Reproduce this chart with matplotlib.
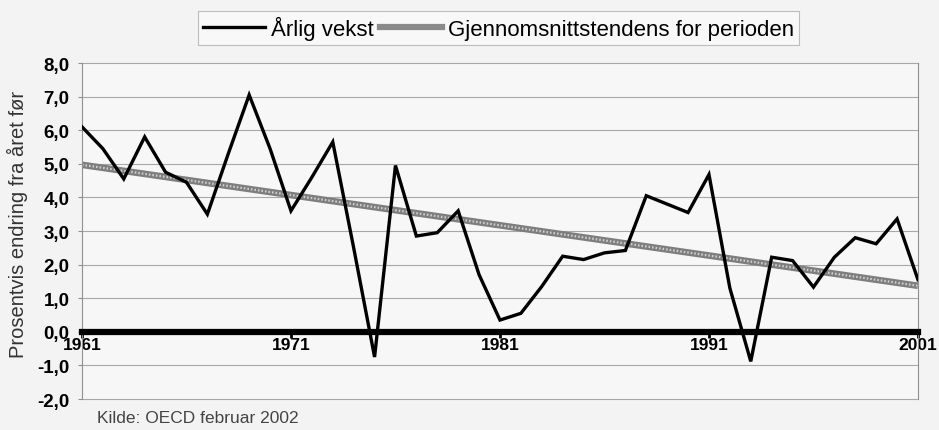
import numpy as np
import matplotlib.pyplot as plt
from matplotlib.lines import Line2D

# annual growth
years = list(range(1961, 2002))
growth = [6.1, 5.45, 4.55, 5.8, 4.75, 4.45, 3.5, 5.3, 7.05, 5.45,
          3.6, 4.6, 5.65, 2.5, -0.75, 4.95, 2.85, 2.95, 3.6, 1.7,
          0.35, 0.55, 1.35, 2.25, 2.15, 2.35, 2.42, 4.05, 3.8, 3.55,
          4.68, 1.3, -0.88, 2.22, 2.12, 1.33, 2.22, 2.8, 2.62, 3.36,
          1.55]
# average trend for the period (end points)
trend_years = [1961, 2001]
trend_vals = [4.97, 1.37]

xtick_years = [1961, 1971, 1981, 1991, 2001]
yticks = list(range(-2, 9))

font = 'Liberation Sans'

fig = plt.figure(figsize=(9.39, 4.31), dpi=100, facecolor='#f3f3f3')
ax = fig.add_axes([0.0873, 0.0719, 0.8903, 0.7796], facecolor='#f7f7f7')

# grid
for y in yticks:
    ax.axhline(y, color='#a8a8a8', lw=0.8, zorder=1, clip_on=False)

# trend line (hatched look)
ax.plot(trend_years, trend_vals, color='#7e7e7e', lw=4.8, solid_capstyle='butt', zorder=2)
ax.plot(trend_years, trend_vals, color='#d0d0d0', lw=1.6, ls=(0, (0.7, 0.9)), zorder=2)

ax.plot(years, growth, color='black', lw=2.4, zorder=4, solid_joinstyle='miter')

ax.set_xlim(1961, 2001)
ax.set_ylim(-2, 8)

ax.spines['top'].set_visible(False)
for s in ['left', 'right']:
    ax.spines[s].set_color('#909090')
    ax.spines[s].set_linewidth(0.8)
ax.spines['bottom'].set_position(('data', 0))
ax.spines['bottom'].set_linewidth(4.5)
ax.spines['bottom'].set_color('black')
ax.spines['bottom'].set_zorder(3)

ax.set_xticks(xtick_years)
ax.set_xticklabels([str(y) for y in xtick_years], fontfamily=font,
                   fontweight='bold', fontsize=12.5)
ax.tick_params(axis='x', length=4, width=2, pad=0, colors='black')
ax.set_yticks(yticks)
ax.set_yticklabels([f"{y:.1f}".replace('.', ',') for y in yticks],
                   fontweight='bold', fontsize=13.5, fontfamily=font)
ax.tick_params(axis='y', length=3, width=0.8, color='#909090', pad=6)

fig.text(0.019, 0.48, 'Prosentvis endring fra året før', rotation=90,
         ha='center', va='center', fontsize=14.5, color='#333333',
         fontfamily=font)

fig.text(0.103, 0.028, 'Kilde: OECD februar 2002', ha='left', va='center',
         fontsize=12.5, color='#444444', fontfamily=font)

handles = [Line2D([], [], color='black', lw=2.4),
           Line2D([], [], color='#8a8a8a', lw=4.5)]
leg = fig.legend(handles, ['Årlig vekst', 'Gjennomsnittstendens for perioden'],
                 loc='upper center', bbox_to_anchor=(0.531, 0.998), ncol=2,
                 frameon=True, fancybox=False, edgecolor='#b0b0b0',
                 facecolor='#fafafa', handlelength=2.8, handletextpad=0.25,
                 columnspacing=0.3, borderpad=0.22,
                 prop={'family': font, 'size': 16})
leg.get_frame().set_linewidth(0.8)

fig.savefig('out.png', dpi=100, facecolor=fig.get_facecolor())
